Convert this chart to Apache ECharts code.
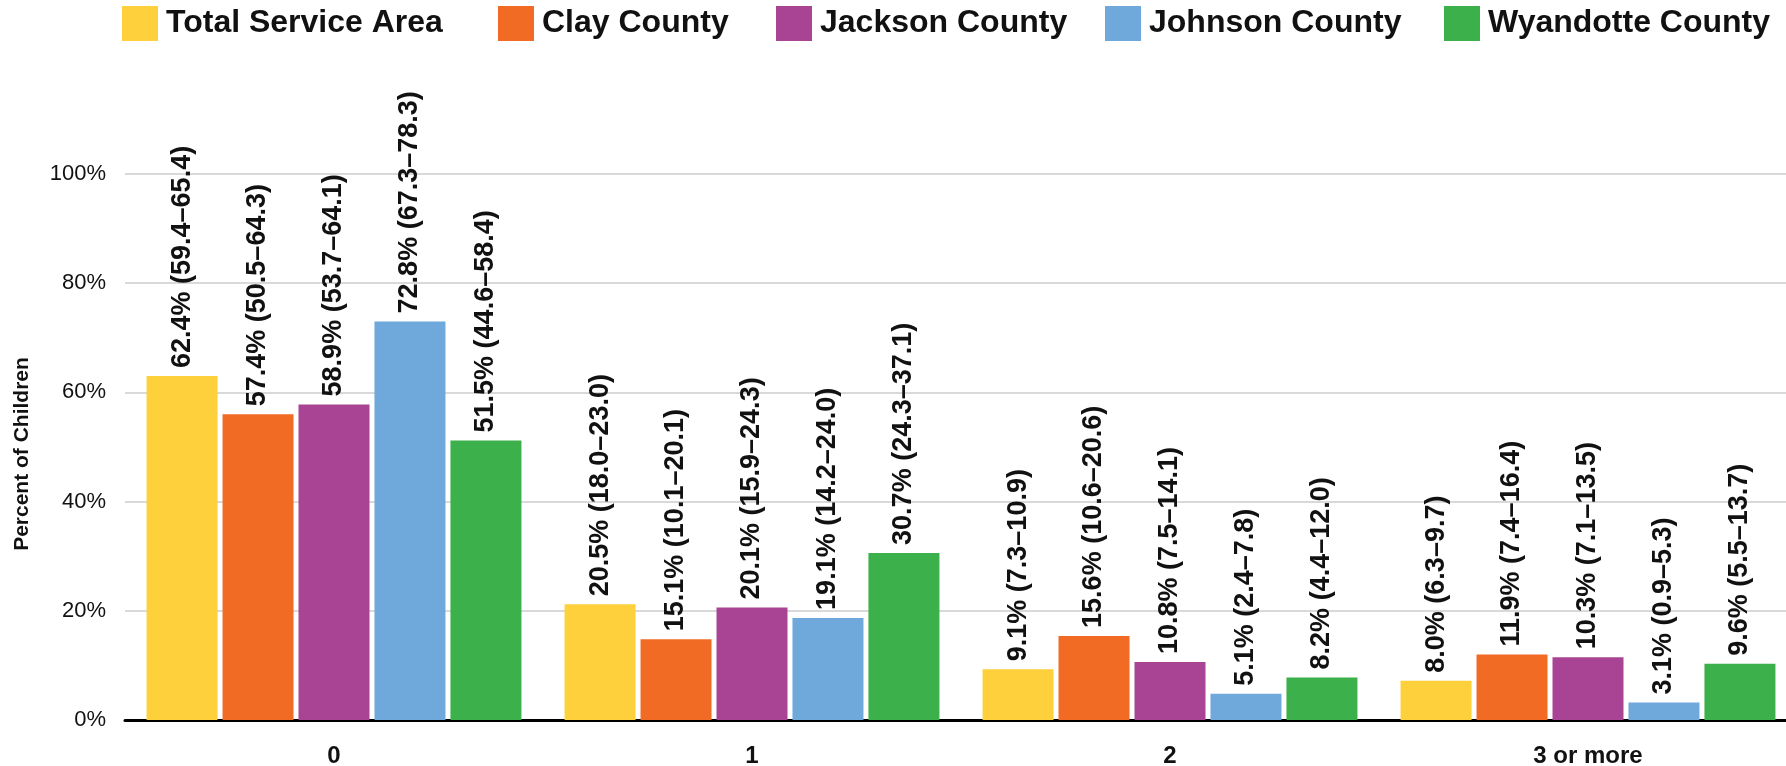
<!DOCTYPE html>
<html>
<head>
<meta charset="utf-8">
<script src="https://cdn.jsdelivr.net/npm/echarts@6/dist/echarts.min.js"></script>
<style>
html,body{margin:0;padding:0;background:#fff;}
#chart{width:1786px;height:766px;}
</style>
</head>
<body>
<div id="chart"></div>
<script>
const categories = ['0', '1', '2', '3 or more'];
const seriesNames = ['Total Service Area', 'Clay County', 'Jackson County', 'Johnson County', 'Wyandotte County'];
const seriesColors = ['#FED03B', '#F16B25', '#A94494', '#6FA8DB', '#3CB04A'];

// bar heights as drawn (percent)
const totalValues = [63.0, 21.2, 9.3, 7.2];
const clayValues = [56.0, 14.8, 15.4, 12.0];
const jacksonValues = [57.8, 20.6, 10.6, 11.5];
const johnsonValues = [73.0, 18.7, 4.8, 3.2];
const wyandotteValues = [51.2, 30.6, 7.8, 10.3];

// label texts as printed
const totalLabels = ['62.4% (59.4–65.4)', '20.5% (18.0–23.0)', '9.1% (7.3–10.9)', '8.0% (6.3–9.7)'];
const clayLabels = ['57.4% (50.5–64.3)', '15.1% (10.1–20.1)', '15.6% (10.6–20.6)', '11.9% (7.4–16.4)'];
const jacksonLabels = ['58.9% (53.7–64.1)', '20.1% (15.9–24.3)', '10.8% (7.5–14.1)', '10.3% (7.1–13.5)'];
const johnsonLabels = ['72.8% (67.3–78.3)', '19.1% (14.2–24.0)', '5.1% (2.4–7.8)', '3.1% (0.9–5.3)'];
const wyandotteLabels = ['51.5% (44.6–58.4)', '30.7% (24.3–37.1)', '8.2% (4.4–12.0)', '9.6% (5.5–13.7)'];

const yTicks = [0, 20, 40, 60, 80, 100];

const allValues = [totalValues, clayValues, jacksonValues, johnsonValues, wyandotteValues];
const allLabels = [totalLabels, clayLabels, jacksonLabels, johnsonLabels, wyandotteLabels];

const FONT = '"Liberation Sans", Arial, sans-serif';
const legendLefts = [122, 498, 776, 1105, 1444];

const chart = echarts.init(document.getElementById('chart'), null, {renderer: 'canvas'});

const option = {
  backgroundColor: '#ffffff',
  animation: false,
  legend: seriesNames.map((n, i) => ({
    data: [n],
    left: legendLefts[i],
    top: 6,
    itemWidth: 36,
    itemHeight: 35,
    icon: 'rect',
    padding: 0,
    textStyle: {fontFamily: FONT, fontSize: 32, fontWeight: 'bold', color: '#111', padding: [0, 0, 0, 3]}
  })),
  grid: {left: 125, top: 174, width: 1672, height: 546, containLabel: false, outerBoundsMode: 'none'},
  xAxis: {
    type: 'category',
    data: categories,
    axisTick: {show: false},
    axisLine: {lineStyle: {color: '#000', width: 3}},
    axisLabel: {fontFamily: FONT, fontSize: 24, fontWeight: 'bold', color: '#111', margin: 24}
  },
  yAxis: {
    type: 'value',
    min: yTicks[0],
    max: yTicks[yTicks.length - 1],
    interval: 20,
    name: 'Percent of Children',
    nameLocation: 'middle',
    nameGap: 92,
    nameTextStyle: {fontFamily: FONT, fontSize: 21, fontWeight: 'bold', color: '#111', padding: [0, 14, 0, 0]},
    axisLine: {show: false},
    axisTick: {show: false},
    axisLabel: {formatter: '{value}%', fontFamily: FONT, fontSize: 22, color: '#111', margin: 19},
    splitLine: {lineStyle: {color: '#d9d9d9', width: 2}}
  },
  series: seriesNames.map((n, i) => ({
    name: n,
    type: 'bar',
    data: allValues[i],
    barWidth: 71,
    barGap: '7%',
    itemStyle: {color: seriesColors[i]},
    label: {
      show: true,
      position: 'top',
      rotate: 90,
      align: 'left',
      verticalAlign: 'middle',
      distance: 8,
      fontFamily: FONT,
      fontSize: 27,
      fontWeight: 'bold',
      color: '#111',
      formatter: (p) => allLabels[i][p.dataIndex]
    }
  }))
};

chart.setOption(option);
</script>
</body>
</html>
